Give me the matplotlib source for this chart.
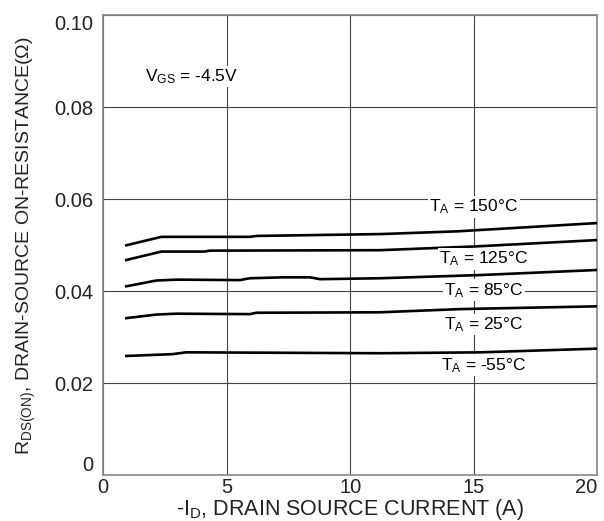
import numpy as np
import matplotlib
matplotlib.use("Agg")
import matplotlib.pyplot as plt

plt.rcParams['font.family'] = ['Liberation Sans', 'DejaVu Sans']
plt.rcParams['mathtext.fontset'] = 'custom'
plt.rcParams['mathtext.rm'] = 'Liberation Sans'
plt.rcParams['mathtext.it'] = 'Liberation Sans'

# on-resistance vs drain current, one curve per ambient temperature
i_150 = [0.88, 2.35, 5.93, 6.2, 11.2, 14.34, 20.0]
r_150 = [0.0499, 0.0518, 0.0518, 0.0520, 0.0524, 0.0530, 0.0548]

i_125 = [0.88, 2.35, 4.1, 4.3, 11.2, 15.0, 20.0]
r_125 = [0.0467, 0.0486, 0.0486, 0.0488, 0.0489, 0.0497, 0.0511]

i_85 = [0.88, 2.14, 2.96, 5.53, 5.93, 7.28, 8.37, 8.78, 11.2, 15.28, 20.0]
r_85 = [0.0410, 0.0423, 0.0425, 0.0424, 0.0428, 0.0430, 0.0430, 0.0426, 0.0428, 0.0435, 0.0446]

i_25 = [0.88, 2.14, 2.96, 5.93, 6.2, 11.2, 14.47, 20.0]
r_25 = [0.0341, 0.0349, 0.0351, 0.0350, 0.0353, 0.0354, 0.0361, 0.0367]

i_m55 = [0.88, 2.80, 3.36, 11.2, 15.28, 20.0]
r_m55 = [0.0259, 0.0263, 0.0267, 0.0265, 0.0267, 0.0275]

curves = [(i_150, r_150), (i_125, r_125), (i_85, r_85), (i_25, r_25), (i_m55, r_m55)]

labels = [r'$\mathregular{T_A}$ = 150°C', r'$\mathregular{T_A}$ = 125°C',
          r'$\mathregular{T_A}$ = 85°C', r'$\mathregular{T_A}$ = 25°C',
          r'$\mathregular{T_A}$ = -55°C']
label_x = [15.0, 15.4, 15.4, 15.4, 15.4]
label_y = [0.0583, 0.0470, 0.0402, 0.0328, 0.0239]

x_ticks = [0, 5, 10, 15, 20]
y_ticks = [0, 0.02, 0.04, 0.06, 0.08, 0.10]
y_ticklabels = ['0', '0.02', '0.04', '0.06', '0.08', '0.10']

fig = plt.figure(figsize=(6.04, 5.21), dpi=100)
ax = fig.add_axes([0.171, 0.088, 0.818, 0.883])

for xs, ys in curves:
    ax.plot(xs, ys, color='black', lw=1.9, solid_capstyle='butt', zorder=3)

for x, y, s in zip(label_x, label_y, labels):
    ax.text(x, y, s, ha='center', va='center', fontsize=12.5, zorder=4,
            bbox=dict(facecolor='white', edgecolor='none', pad=1.0))

ax.text(1.67, 0.0867, r'$\mathregular{V_{GS}}$ = -4.5V', ha='left', va='center',
        fontsize=12.5, zorder=4, bbox=dict(facecolor='white', edgecolor='none', pad=1.0))

ax.set_xlim(0, 20)
ax.set_ylim(0, 0.1)
ax.set_xticks(x_ticks)
ax.set_yticks(y_ticks)
ax.set_yticklabels(y_ticklabels)
ax.tick_params(length=0, labelsize=14.5, labelcolor='#222222')
ax.tick_params(axis='y', pad=7)
ax.tick_params(axis='x', pad=2)

# end labels sit inside the axis range
yl = ax.get_yticklabels()
yl[0].set_va('bottom')
yl[-1].set_va('top')
xl = ax.get_xticklabels()
xl[-1].set_ha('right')

ax.grid(True, color='#444444', lw=0.8, zorder=1)
for sp in ax.spines.values():
    sp.set_color('#888888')
    sp.set_linewidth(1.2)

ax.set_xlabel(r'-$\mathregular{I_D}$, DRAIN SOURCE CURRENT (A)', fontsize=15.5,
              labelpad=0, color='#222222')
ax.set_ylabel(r'$\mathregular{R_{DS(ON)}}$, DRAIN-SOURCE ON-RESISTANCE(Ω)', fontsize=14,
              labelpad=12, color='#222222')

fig.savefig('out.png', dpi=100)
